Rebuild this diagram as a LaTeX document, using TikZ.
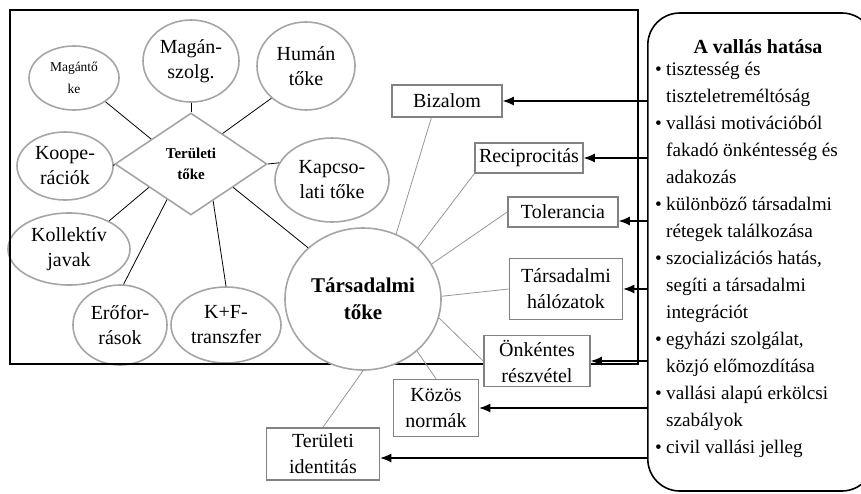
\documentclass[tikz,border=0pt]{standalone}
\usepackage{fontspec}
\setmainfont{Liberation Serif}
\usetikzlibrary{shapes.geometric, arrows.meta, positioning}
\definecolor{ovalgray}{RGB}{165,165,165}
\definecolor{boxgray}{RGB}{130,130,130}
\definecolor{linkgray}{RGB}{150,150,150}
\newcommand{\itm}{\makebox[11pt][l]{\textbullet}}
\newcommand{\cnt}{\hspace*{11pt}}

\begin{document}
\begin{tikzpicture}[
    x=1pt, y=-1pt,
    oval/.style={ellipse, draw=ovalgray, line width=1.6pt, inner sep=0pt,
                 align=center, font=\fontsize{20}{25}\selectfont},
    box/.style={rectangle, draw=boxgray, line width=1.6pt, fill=white, inner sep=0pt,
                align=center, font=\fontsize{20}{26}\selectfont},
    link/.style={black, line width=0.8pt},
    glink/.style={linkgray, line width=0.8pt},
    effect/.style={-{Latex[length=11pt,width=9pt]}, line width=1.1pt}
]
    \useasboundingbox (0,0) rectangle (861,493);
    \clip (0,0) rectangle (861,493);

    % Teruleti toke and its parts
    \node[oval, minimum width=90pt, minimum height=64pt, font=\fontsize{13.5}{22}\selectfont] (magt) at (74,78) {Magántő\\ke};
    \node[oval, minimum width=96pt, minimum height=82pt] (magsz) at (191,61) {Magán-\\szolg.};
    \node[oval, minimum width=98pt, minimum height=88pt] (hum) at (306,66) {Humán\\tőke};
    \node[oval, minimum width=96pt, minimum height=68pt] (koop) at (65,166) {Koope-\\rációk};
    \node[oval, minimum width=114pt, minimum height=84pt] (kap) at (332,180) {Kapcso-\\lati tőke};
    \node[diamond, aspect=1.5, draw=ovalgray, line width=1.6pt, minimum width=152pt, minimum height=102pt,
          inner sep=0pt, align=center, font=\bfseries\fontsize{15}{21}\selectfont] (ter) at (191,164) {Területi\\tőke};
    \node[oval, minimum width=122pt, minimum height=72pt] (koll) at (69,249) {Kollektív\\javak};
    \node[oval, minimum width=94pt, minimum height=80pt] (ero) at (120,325) {Erőfor-\\rások};
    \node[oval, minimum width=110pt, minimum height=76pt] (kf) at (226,325) {K+F-\\transzfer};

    % frame
    \draw[line width=2.8pt] (10,10) rectangle (638,364);

    % Tarsadalmi toke and its parts
    \node[oval, fill=white, minimum width=156pt, minimum height=142pt,
          font=\bfseries\fontsize{21}{27}\selectfont] (soc) at (363,299) {Társadalmi\\tőke};
    \node[box, minimum width=110pt, minimum height=32pt] (biz) at (447,101) {Bizalom};
    \node[box, minimum width=108pt, minimum height=30pt] (rec) at (529,158) {Reciprocitás};
    \node[box, minimum width=110pt, minimum height=30pt] (tol) at (563,212) {Tolerancia};
    \node[box, minimum width=113pt, minimum height=61pt] (hal) at (566,289) {Társadalmi\\hálózatok};
    \node[box, minimum width=106pt, minimum height=51pt] (onk) at (537,361) {Önkéntes\\részvétel};
    \node[box, minimum width=85pt, minimum height=57pt] (koz) at (436,408) {Közös\\normák};
    \node[box, minimum width=113pt, minimum height=52pt] (tid) at (323,454) {Területi\\identitás};

    \draw[link] (ter.148) -- (magt.-37);
    \draw[link] (ter.north) -- (magsz.south);
    \draw[link] (ter.44) -- (hum.-137);
    \draw[link] (ter.west) -- (koop.east);
    \draw[link] (ter.east) -- (kap.162);
    \draw[link] (ter.209) -- (koll.35);
    \draw[link] (ter.236) -- (ero.85);
    \draw[link] (ter.-59) -- (kf.north);
    \draw[link] (ter.-29) -- (soc.137);

    \draw[glink] (soc.63) -- (biz.-133);
    \draw[glink] (soc.43) -- (rec.south west);
    \draw[glink] (soc.27) -- (tol.west);
    \draw[glink] (soc.2) -- (hal.west);
    \draw[glink] (soc.-14) -- (onk.west);
    \draw[glink] (soc.-44) -- (koz.north);
    \draw[glink] (soc.south) -- (tid.north);

    % A vallas hatasa
    \node[draw, line width=1.6pt, rounded corners=32pt, minimum width=226pt, minimum height=478pt,
          inner sep=0pt, anchor=west] (val) at (647,252) {};
    \node[font=\bfseries\fontsize{20}{24}\selectfont] (head) at (758,47) {A vallás hatása};
    \node[anchor=north west, inner sep=0pt, align=left, font=\fontsize{19.2}{27}\selectfont] (items) at (655,62) {%
        \itm tisztesség és\\
        \cnt tiszteletreméltóság\\
        \itm vallási motivációból\\
        \cnt fakadó önkéntesség és\\
        \cnt adakozás\\
        \itm különböző társadalmi\\
        \cnt rétegek találkozása\\
        \itm szocializációs hatás,\\
        \cnt segíti a társadalmi\\
        \cnt integrációt\\
        \itm egyházi szolgálat,\\
        \cnt közjó előmozdítása\\
        \itm vallási alapú erkölcsi\\
        \cnt szabályok\\
        \itm civil vallási jelleg};

    \coordinate (tolin) at ([yshift=-9pt]tol.east);
    \coordinate (tidin) at ([yshift=-4pt]tid.east);
    \draw[effect] (val.west |- biz.east) -- (biz.east);
    \draw[effect] (val.west |- rec.east) -- (rec.east);
    \draw[effect] (val.west |- tolin) -- (tolin);
    \draw[effect] (val.west |- hal.east) -- (hal.east);
    \draw[effect] (val.west |- onk.east) -- (onk.east);
    \draw[effect] (val.west |- koz.east) -- (koz.east);
    \draw[effect] (val.west |- tidin) -- (tidin);
\end{tikzpicture}
\end{document}
